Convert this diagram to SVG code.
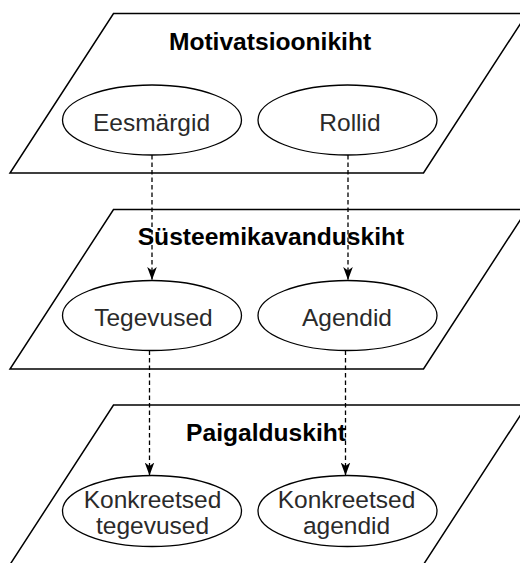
<svg xmlns="http://www.w3.org/2000/svg" width="520" height="563" viewBox="0 0 520 563">
  <style>
    .layer { fill: #ffffff; stroke: #000000; stroke-width: 1.5; }
    .node { fill: #ffffff; stroke: #000000; stroke-width: 1.3; }
    .title { font-family: "Liberation Sans", Arial, Helvetica, sans-serif; font-size: 24.6px; font-weight: bold; fill: #000000; text-anchor: middle; }
    .label { font-family: "Liberation Sans", Arial, Helvetica, sans-serif; font-size: 24.5px; fill: #2a2a2a; text-anchor: middle; }
    .conn { fill: none; stroke: #000000; stroke-width: 1.3; stroke-dasharray: 4.5 3; }
  </style>
  <defs>
    <marker id="arrow" viewBox="0 -5 13 10" refX="13" refY="0" markerWidth="13" markerHeight="10" markerUnits="userSpaceOnUse" orient="auto">
      <path d="M0,-4.8 L13,0 L0,4.8 L3.5,0 Z" fill="#000000" stroke="none"/>
    </marker>
  </defs>
  <rect x="0" y="0" width="520" height="563" fill="#ffffff"/>

  <g id="layer-motivatsioonikiht">
    <polygon class="layer" points="113.5,13.5 527,13.5 423.5,173 10,173"/>
    <text class="title" x="270" y="49.5">Motivatsioonikiht</text>
  </g>
  <g id="layer-systeemikavanduskiht">
    <polygon class="layer" points="113.5,209.5 527,209.5 423.5,369 10,369"/>
    <text class="title" x="271" y="245">Süsteemikavanduskiht</text>
  </g>
  <g id="layer-paigalduskiht">
    <polygon class="layer" points="113.5,405 527,405 423.5,564.5 10,564.5"/>
    <text class="title" x="266" y="441">Paigalduskiht</text>
  </g>

  <g id="node-eesmargid">
    <ellipse class="node" cx="152" cy="120" rx="89.5" ry="35"/>
    <text class="label" x="151.5" y="130.5">Eesmärgid</text>
  </g>
  <g id="node-rollid">
    <ellipse class="node" cx="347.5" cy="120" rx="89.5" ry="35"/>
    <text class="label" x="350" y="130.5">Rollid</text>
  </g>
  <g id="node-tegevused">
    <ellipse class="node" cx="152" cy="315.5" rx="89.5" ry="35"/>
    <text class="label" x="153.5" y="326">Tegevused</text>
  </g>
  <g id="node-agendid">
    <ellipse class="node" cx="347.5" cy="315.5" rx="89.5" ry="35"/>
    <text class="label" x="347" y="326">Agendid</text>
  </g>
  <g id="node-konkreetsed-tegevused">
    <ellipse class="node" cx="152" cy="511" rx="89.5" ry="35.5"/>
    <text class="label" x="152.5" y="507.5">Konkreetsed</text>
    <text class="label" x="152.5" y="534">tegevused</text>
  </g>
  <g id="node-konkreetsed-agendid">
    <ellipse class="node" cx="347.5" cy="511" rx="89.5" ry="35.5"/>
    <text class="label" x="346.5" y="507.5">Konkreetsed</text>
    <text class="label" x="346.5" y="534">agendid</text>
  </g>

  <g id="connectors">
    <path class="conn" d="M152,155 L152,280" marker-end="url(#arrow)"/>
    <path class="conn" d="M348,155 L348,280" marker-end="url(#arrow)"/>
    <path class="conn" d="M149.5,350.5 L149.5,475.5" marker-end="url(#arrow)"/>
    <path class="conn" d="M345.5,350.5 L345.5,475.5" marker-end="url(#arrow)"/>
  </g>
</svg>
